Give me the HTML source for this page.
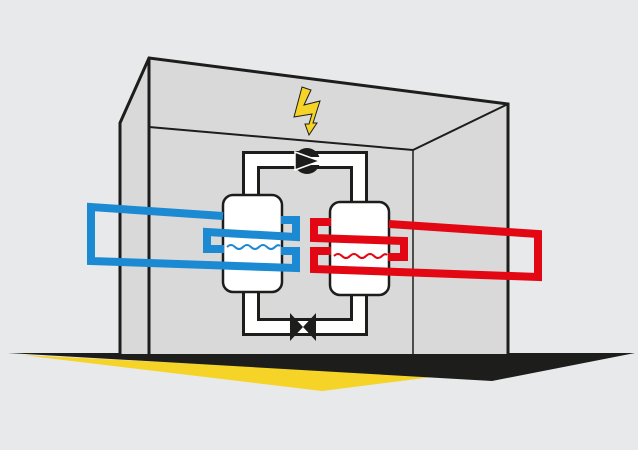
<!DOCTYPE html>
<html><head><style>html,body{margin:0;padding:0;background:#e7e9eb;}svg{display:block}</style></head>
<body>
<svg width="638" height="450" viewBox="0 0 638 450" xmlns="http://www.w3.org/2000/svg">
<rect width="638" height="450" fill="#e7e9eb"/>
<polygon points="22,355 322,391 440,376" fill="#f5d327"/>
<polygon points="8,353 635,353 492,381" fill="#1d1d1b"/>
<polygon points="120,123 149,58 508,104 508,354 120,354" fill="#d9d9d9"/>
<polyline points="120,354 120,123 149,58 508,104 508,354" fill="none" stroke="#1d1d1b" stroke-width="3"/>
<line x1="149" y1="58" x2="149" y2="354" stroke="#1d1d1b" stroke-width="3"/>
<polyline points="149,127 413,150 508,104" fill="none" stroke="#1d1d1b" stroke-width="2"/>
<line x1="413" y1="150" x2="413" y2="354" stroke="#1d1d1b" stroke-width="1.5"/>
<polygon points="302,87 311,90 304,105 320,101 313,123 317,123 309,135 305,124 309,124 312,114 294,117" fill="#f5d327" stroke="#1d1d1b" stroke-width="1"/>
<g fill="none" stroke-linejoin="miter">
<polyline points="251,200 251,160 359,160 359,205" stroke="#1d1d1b" stroke-width="18"/>
<polyline points="251,200 251,160 359,160 359,205" stroke="#fff" stroke-width="12"/>
<polyline points="251,288 251,327 359,327 359,290" stroke="#1d1d1b" stroke-width="18"/>
<polyline points="251,288 251,327 359,327 359,290" stroke="#fff" stroke-width="12"/>
</g>
<circle cx="307" cy="161" r="13" fill="#1d1d1b"/>
<rect x="292" y="157" width="30" height="8" fill="#fff"/>
<polygon points="295,152 320,161 295,170" fill="#1d1d1b" stroke="#fff" stroke-width="1.5"/>
<polygon points="290,313 303,327 290,341" fill="#1d1d1b"/>
<polygon points="316,313 303,327 316,341" fill="#1d1d1b"/>
<rect x="223" y="195" width="59" height="97" rx="10" fill="#fff" stroke="#1d1d1b" stroke-width="2.5"/>
<rect x="330" y="202" width="59" height="93" rx="10" fill="#fff" stroke="#1d1d1b" stroke-width="2.5"/>
<g fill="none" stroke="#1b8ad3" stroke-width="8" stroke-linejoin="miter">
<polyline points="281,220 296,220 296,237 207,232 207,249 224,249"/>
<polyline points="281,251 296,251 296,268 91,261 91,207 223,216"/>
</g>
<path d="M227,247 Q231,243 235,247 Q239,251 243,247 Q247,243 251,247 Q255,251 259,247 Q263,243 267,247 Q271,251 275,247 Q278,244 280,246" fill="none" stroke="#1b8ad3" stroke-width="2"/>
<g fill="none" stroke="#e30613" stroke-width="8" stroke-linejoin="miter">
<polyline points="331,222 314,222 314,238 404,241 404,257 388,257"/>
<polyline points="331,251 314,251 314,269 538,277 538,234 389,224"/>
</g>
<path d="M334,256 Q338,252 342,256 Q346,260 350,256 Q354,252 358,256 Q362,260 366,256 Q370,252 374,256 Q378,260 382,256 Q385,253 387,255" fill="none" stroke="#e30613" stroke-width="2"/>
</svg>
</body></html>
